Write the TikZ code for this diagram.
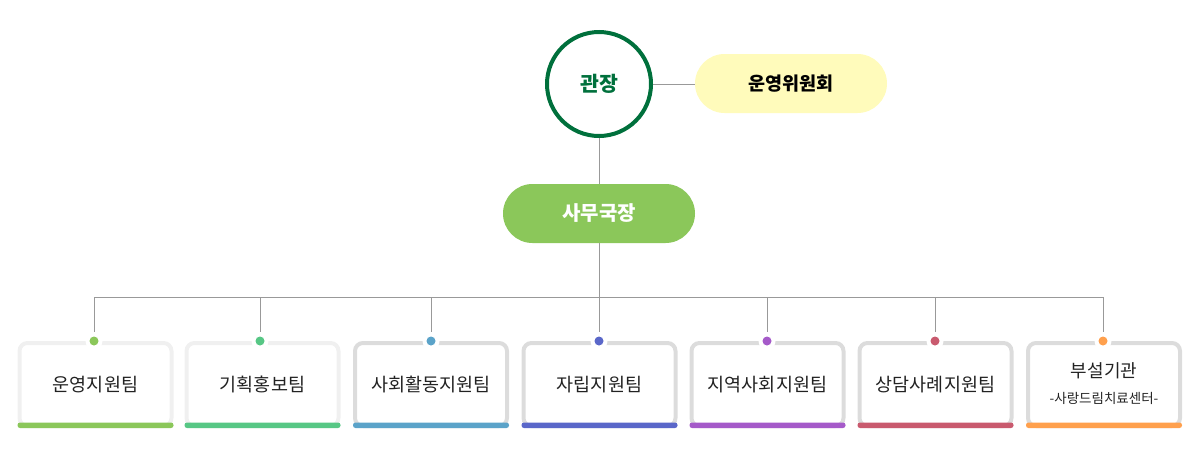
\documentclass[tikz,border=0pt]{standalone}
\usepackage{fontspec}
\setmainfont{Noto Sans CJK KR}
\usetikzlibrary{calc}
\definecolor{lineg}{HTML}{999999}
\definecolor{chiefgreen}{HTML}{00703C}
\definecolor{pillyellow}{HTML}{FFFBBB}
\definecolor{c1}{HTML}{8BC75A}
\definecolor{c2}{HTML}{57C785}
\definecolor{c3}{HTML}{5BA3C9}
\definecolor{c4}{HTML}{5A67C9}
\definecolor{c5}{HTML}{A55AC9}
\definecolor{c6}{HTML}{C95A6E}
\definecolor{c7}{HTML}{FFA04D}
\definecolor{boxlight}{HTML}{F0F0F0}
\definecolor{boxgray}{HTML}{DCDCDC}
\definecolor{txt}{HTML}{222222}
\tikzset{
  conn/.style={draw=lineg, line width=1pt},
  pill/.style={rounded corners=29.5pt, minimum width=192pt, minimum height=59pt, inner sep=0pt, font=\fontsize{18.5}{21}\selectfont\bfseries},
  teambox/.style={draw=#1, line width=4pt, rounded corners=8pt, minimum width=152pt, minimum height=83pt, inner sep=0pt, text=txt, font=\fontsize{18.5}{21}\selectfont, align=center},
  teamdot/.style={circle, fill=#1, minimum size=9pt, inner sep=0pt},
}
\begin{document}
\begin{tikzpicture}[x=1pt, y=-1pt]
\useasboundingbox (0,0) rectangle (1200,453);
% top
\node[circle, draw=chiefgreen, line width=4pt, minimum size=104pt, inner sep=0pt, text=chiefgreen, font=\fontsize{20.5}{23}\selectfont\bfseries] (gj) at (599,84) {관장};
\node[pill, fill=pillyellow, text=black] (uw) at (791,83.5) {운영위원회};
\node[pill, fill=c1, text=white, font=\fontsize{20}{23}\selectfont\bfseries] (sm) at (599,213.5) {사무국장};
\draw[conn] (gj.east) -- (gj.east -| uw.west);
\draw[conn] (gj.south) -- (sm.north);
\coordinate (bus) at (599,297);
\draw[conn] (sm.south) -- (bus);
% teams
\foreach \i/\x/\bc/\lab in {1/95.5/boxlight/운영지원팀, 2/262.5/boxlight/기획홍보팀, 3/431/boxgray/사회활동지원팀, 4/599.5/boxgray/자립지원팀, 5/767.5/boxgray/지역사회지원팀, 6/935.5/boxgray/상담사례지원팀}{
  \node[teambox=\bc] (t\i) at (\x,384.5) {\lab};
}
\node[teambox=boxgray] (t7) at (1104,384.5) {};
\node[text=txt, font=\fontsize{18}{21}\selectfont] (t7a) at (1104,371) {부설기관};
\node[text=txt, font=\fontsize{13.5}{16}\selectfont] (t7b) at (1104,398.5) {-사랑드림치료센터-};
\foreach \i/\dx/\col in {1/94/c1,2/260/c2,3/431/c3,4/599/c4,5/767/c5,6/935/c6,7/1103/c7}{
  \fill[\col, rounded corners=2.5pt] (t\i.south west) rectangle ($(t\i.south east)+(0,-5.5)$);
  \coordinate (dp\i) at (\dx,0 |- t\i.north);
  \fill[white] (dp\i) circle (8.5pt);
  \node[teamdot=\col] (d\i) at (dp\i) {};
  \draw[conn, shorten >=4pt] (bus) -| (d\i);
}
\end{tikzpicture}
\end{document}
